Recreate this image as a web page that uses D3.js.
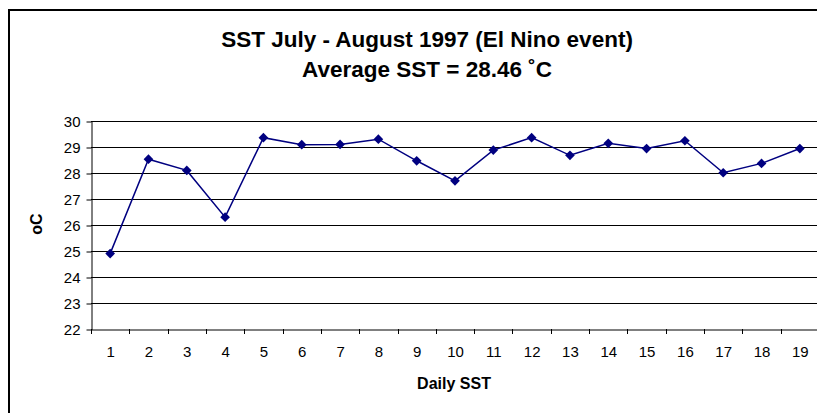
<!DOCTYPE html>
<html><head><meta charset="utf-8">
<script src="https://cdn.jsdelivr.net/npm/d3@7"></script>
<style>body{margin:0;background:#fff}svg{display:block}text{font-family:"Liberation Sans",Arial,sans-serif}</style>
</head><body>
<svg id="c" width="817" height="413"></svg>
<script>
const days = ["1","2","3","4","5","6","7","8","9","10","11","12","13","14","15","16","17","18","19"];
const sst = [24.9,28.53,28.1,26.3,29.36,29.09,29.1,29.3,28.47,27.7,28.88,29.36,28.68,29.14,28.94,29.24,28.01,28.37,28.94];
const yTicks = [22,23,24,25,26,27,28,29,30];
const titleLines = ["SST July - August 1997 (El Nino event)","Average SST = 28.46 ˚C"];
const xTitle = "Daily SST";
const yTitle = "oC";

const svg = d3.select("#c");
const L = 91, R = 819, T = 121, B = 329;

svg.append("rect").attr("x",9).attr("y",10).attr("width",830).attr("height",430)
  .attr("fill","none").attr("stroke","#000").attr("stroke-width",2);

const x = d3.scaleBand().domain(days).range([L,R]);
const y = d3.scaleLinear().domain([22,30]).range([B,T]);

// gridlines
svg.append("g").selectAll("line").data(yTicks.filter(d=>d>22)).join("line")
  .attr("x1",L).attr("x2",R).attr("y1",d=>Math.round(y(d))+0.5).attr("y2",d=>Math.round(y(d))+0.5)
  .attr("stroke","#000").attr("stroke-width",1);

// y axis
const yAxis = svg.append("g").attr("transform",`translate(${L+0.5},0.5)`)
  .call(d3.axisLeft(y).tickValues(yTicks).tickSize(5).tickPadding(6).tickSizeOuter(0));
yAxis.select(".domain").attr("stroke","#000");
yAxis.selectAll("text").attr("font-size",15).attr("fill","#000").style("font-family","Liberation Sans, Arial, sans-serif");

// x axis
const xAxis = svg.append("g").attr("transform",`translate(0.5,${B+0.5})`)
  .call(d3.axisBottom(x).tickSize(0).tickPadding(17).tickSizeOuter(0));
xAxis.select(".domain").attr("stroke","#000");
xAxis.selectAll("text").attr("font-size",15).attr("fill","#000").style("font-family","Liberation Sans, Arial, sans-serif");
// boundary ticks
svg.append("g").selectAll("line").data(days).join("line")
  .attr("x1",d=>Math.round(x(d))+0.5).attr("x2",d=>Math.round(x(d))+0.5)
  .attr("y1",B).attr("y2",B+5).attr("stroke","#000");

// line
const cx = d=>x(d)+x.bandwidth()/2;
svg.append("path").datum(sst)
  .attr("d",d3.line().x((d,i)=>cx(days[i])).y(d=>y(d)))
  .attr("fill","none").attr("stroke","#000080").attr("stroke-width",1.5);
svg.append("g").selectAll("path").data(sst).join("path")
  .attr("d",d3.symbol().type(d3.symbolDiamond2).size(60))
  .attr("transform",(d,i)=>`translate(${cx(days[i])},${y(d)})`)
  .attr("fill","#000080");

// titles
svg.append("text").attr("x",427).attr("y",47).attr("text-anchor","middle")
  .attr("font-size",22.5).attr("font-weight","bold").text(titleLines[0]);
svg.append("text").attr("x",427).attr("y",77).attr("text-anchor","middle")
  .attr("font-size",22.5).attr("font-weight","bold").text(titleLines[1]);
svg.append("text").attr("x",454).attr("y",389).attr("text-anchor","middle")
  .attr("font-size",16).attr("font-weight","bold").text(xTitle);
svg.append("text").attr("transform","translate(42,224) rotate(-90)").attr("text-anchor","middle")
  .attr("font-size",16).attr("font-weight","bold").text(yTitle);
</script>
</body></html>
